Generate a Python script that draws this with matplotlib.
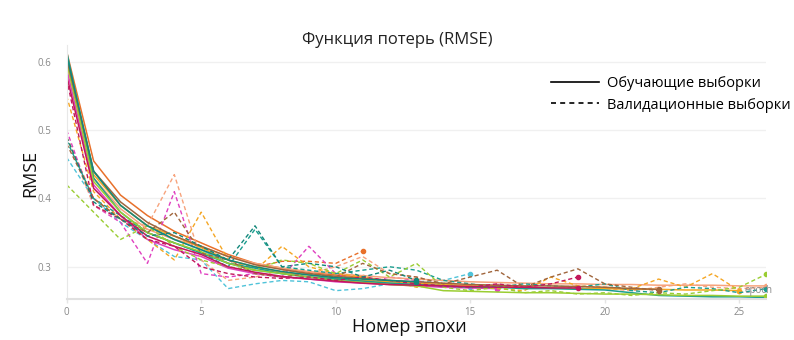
import matplotlib
matplotlib.use("Agg")
import matplotlib.pyplot as plt
from matplotlib.lines import Line2D

plt.rcParams['font.family'] = ['Open Sans', 'DejaVu Sans']

# RMSE per epoch for each cross-validation fold (train / validation)
colors = ['#e8702a', '#4fc3d9', '#e040c0', '#f7a37c', '#f5a623',
          '#1a9e8f', '#9acd32', '#a0653c', '#c2185b', '#12877a']

train = [
    [0.615, 0.455, 0.405, 0.375, 0.352, 0.335, 0.318, 0.305, 0.298, 0.292, 0.288, 0.285],
    [0.605, 0.44, 0.39, 0.36, 0.34, 0.325, 0.305, 0.295, 0.29, 0.285, 0.282, 0.278, 0.276, 0.274, 0.272, 0.270],
    [0.59, 0.42, 0.375, 0.34, 0.325, 0.315, 0.298, 0.29, 0.285, 0.282, 0.278, 0.276, 0.274, 0.272, 0.27, 0.269, 0.268],
    [0.61, 0.43, 0.385, 0.355, 0.34, 0.33, 0.315, 0.305, 0.298, 0.293, 0.29, 0.287, 0.284, 0.282, 0.28, 0.278,
     0.277, 0.276, 0.275, 0.275, 0.274, 0.274, 0.273, 0.273, 0.273, 0.272, 0.272],
    [0.60, 0.435, 0.39, 0.36, 0.345, 0.328, 0.31, 0.30, 0.292, 0.288, 0.284, 0.28, 0.278, 0.276, 0.274, 0.272,
     0.272, 0.270, 0.269, 0.268, 0.268, 0.267, 0.267, 0.266, 0.266, 0.265],
    [0.615, 0.43, 0.38, 0.35, 0.335, 0.32, 0.305, 0.298, 0.29, 0.285, 0.282, 0.279, 0.276, 0.274, 0.272, 0.27,
     0.27, 0.268, 0.268, 0.267, 0.266, 0.262, 0.258, 0.257, 0.256, 0.256, 0.255],
    [0.60, 0.425, 0.38, 0.35, 0.335, 0.322, 0.305, 0.295, 0.29, 0.285, 0.28, 0.277, 0.274, 0.272, 0.265, 0.264,
     0.263, 0.262, 0.262, 0.261, 0.26, 0.26, 0.259, 0.258, 0.258, 0.257, 0.257],
    [0.605, 0.44, 0.395, 0.365, 0.345, 0.33, 0.315, 0.303, 0.296, 0.29, 0.286, 0.283, 0.28, 0.278, 0.276, 0.274,
     0.273, 0.272, 0.272, 0.271, 0.27, 0.268, 0.267],
    [0.58, 0.415, 0.375, 0.345, 0.33, 0.318, 0.30, 0.292, 0.286, 0.282, 0.279, 0.276, 0.274, 0.273, 0.272, 0.271,
     0.27, 0.27, 0.269, 0.269],
    [0.61, 0.44, 0.39, 0.36, 0.34, 0.325, 0.31, 0.30, 0.293, 0.288, 0.284, 0.282, 0.28, 0.278],
]

valid = [
    [0.49, 0.40, 0.37, 0.355, 0.345, 0.33, 0.305, 0.300, 0.308, 0.308, 0.305, 0.323],
    [0.46, 0.40, 0.365, 0.34, 0.315, 0.31, 0.268, 0.275, 0.28, 0.278, 0.265, 0.268, 0.275, 0.278, 0.280, 0.290],
    [0.50, 0.39, 0.365, 0.305, 0.41, 0.29, 0.285, 0.29, 0.285, 0.33, 0.29, 0.275, 0.285, 0.28, 0.27, 0.27, 0.272],
    [0.49, 0.39, 0.37, 0.36, 0.435, 0.31, 0.28, 0.285, 0.295, 0.29, 0.30, 0.315, 0.29, 0.285, 0.275, 0.27,
     0.272, 0.268, 0.27, 0.272, 0.268, 0.265, 0.27, 0.275, 0.27, 0.268, 0.27],
    [0.55, 0.41, 0.37, 0.34, 0.31, 0.38, 0.31, 0.295, 0.33, 0.30, 0.29, 0.285, 0.28, 0.27, 0.275, 0.27,
     0.268, 0.265, 0.285, 0.272, 0.27, 0.268, 0.282, 0.27, 0.29, 0.265],
    [0.485, 0.40, 0.375, 0.35, 0.335, 0.32, 0.30, 0.355, 0.30, 0.295, 0.29, 0.295, 0.30, 0.295, 0.28, 0.275,
     0.27, 0.275, 0.272, 0.27, 0.275, 0.265, 0.262, 0.27, 0.268, 0.262, 0.268],
    [0.42, 0.38, 0.34, 0.36, 0.33, 0.31, 0.30, 0.295, 0.31, 0.305, 0.29, 0.31, 0.285, 0.305, 0.27, 0.265,
     0.27, 0.262, 0.265, 0.26, 0.262, 0.258, 0.262, 0.26, 0.265, 0.27, 0.289],
    [0.48, 0.40, 0.37, 0.35, 0.38, 0.32, 0.31, 0.29, 0.285, 0.29, 0.285, 0.305, 0.29, 0.285, 0.275, 0.285,
     0.295, 0.27, 0.285, 0.297, 0.275, 0.27, 0.265],
    [0.575, 0.39, 0.37, 0.34, 0.33, 0.30, 0.29, 0.285, 0.283, 0.285, 0.28, 0.285, 0.28, 0.275, 0.272, 0.27,
     0.275, 0.27, 0.275, 0.285],
    [0.49, 0.395, 0.37, 0.345, 0.35, 0.33, 0.31, 0.36, 0.30, 0.305, 0.30, 0.285, 0.295, 0.28],
]

fig = plt.figure(figsize=(7.94, 3.40), dpi=100)
ax = fig.add_axes([0.084, 0.121, 0.881, 0.747])

for c, tr, va in zip(colors, train, valid):
    ep = range(len(tr))
    ax.plot(ep, tr, color=c, lw=1.1, solid_joinstyle='round')
    ax.plot(ep, va, color=c, lw=1.0, ls=(0, (3, 2)))
    ax.plot(ep[-1], tr[-1], 'o', color=c, ms=3)
    ax.plot(ep[-1], va[-1], 'o', color=c, ms=3)

ax.text(25.2, 0.262, 'epoch', fontsize=7, color='#888888')

ax.set_xlim(0, 26)
ax.set_ylim(0.253, 0.625)
ax.set_xticks([0, 5, 10, 15, 20, 25])
ax.set_yticks([0.3, 0.4, 0.5, 0.6])
ax.set_yticklabels(['0.3', '0.4', '0.5', '0.6'])
ax.tick_params(labelsize=7, colors='#888888', length=0)
ax.tick_params(axis='y', pad=11)
ax.tick_params(axis='x', length=3, color='#e5e5e5', width=1, pad=3)
ax.grid(axis='y', color='#f0f0f0', lw=1)
ax.set_axisbelow(True)
for s in ['top', 'right']:
    ax.spines[s].set_visible(False)
ax.spines['left'].set_color('#e8e8e8')
ax.spines['bottom'].set_color('#e0e0e0')
ax.spines['bottom'].set_linewidth(1.5)

fig.text(0.5, 0.882, 'Функция потерь (RMSE)', ha='center', va='center', fontsize=12, color='#222222')
fig.text(0.038, 0.49, 'RMSE', rotation=90, ha='center', va='center', fontsize=13, color='#111111')
fig.text(0.515, 0.038, 'Номер эпохи', ha='center', va='center', fontsize=13, color='#111111')

handles = [Line2D([], [], color='black', lw=1.2),
           Line2D([], [], color='black', lw=1.2, ls=(0, (3, 2.5)))]
fig.legend(handles, ['Обучающие выборки', 'Валидационные выборки'],
           loc='upper right', bbox_to_anchor=(1.012, 0.815), frameon=False,
           fontsize=10.5, handlelength=3.3, labelspacing=0.45, handletextpad=0.5)

fig.savefig('out.png', dpi=100, facecolor='white')
